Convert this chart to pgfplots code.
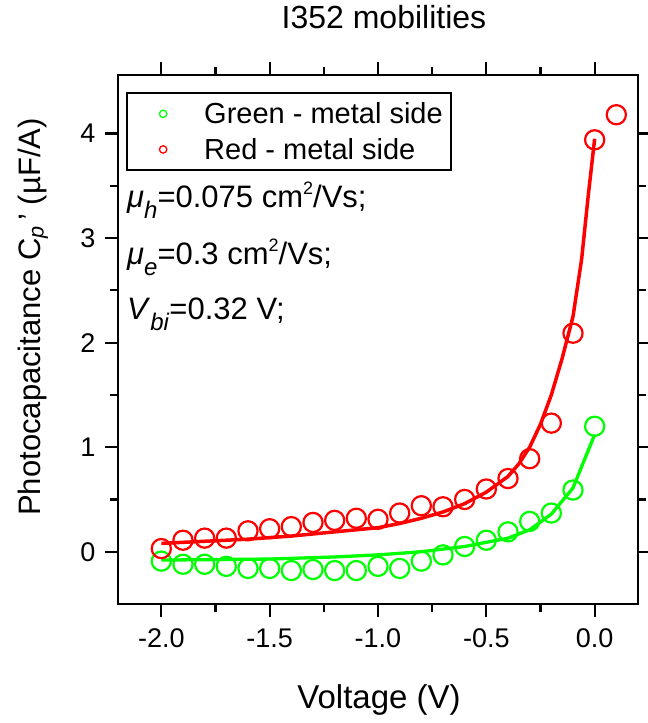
\documentclass[border=0pt]{standalone}
\usepackage{fontspec}
\setmainfont{Liberation Sans}
\usepackage{pgfplots}
\pgfplotsset{compat=1.18}
\definecolor{pgreen}{RGB}{0,255,0}
\definecolor{pred}{RGB}{255,0,0}

\pgfplotstableread{
x y
-2.0 0.03
-1.9 0.11
-1.8 0.13
-1.7 0.13
-1.6 0.20
-1.5 0.22
-1.4 0.24
-1.3 0.28
-1.2 0.30
-1.1 0.32
-1.0 0.31
-0.9 0.37
-0.8 0.44
-0.7 0.43
-0.6 0.50
-0.5 0.60
-0.4 0.70
-0.3 0.89
-0.2 1.23
-0.1 2.09
0.0 3.94
0.1 4.18
}\reddata

\pgfplotstableread{
x y
-2.0 -0.09
-1.9 -0.12
-1.8 -0.12
-1.7 -0.14
-1.6 -0.16
-1.5 -0.16
-1.4 -0.18
-1.3 -0.17
-1.2 -0.18
-1.1 -0.18
-1.0 -0.14
-0.9 -0.16
-0.8 -0.09
-0.7 -0.03
-0.6 0.05
-0.5 0.11
-0.4 0.19
-0.3 0.29
-0.2 0.37
-0.1 0.59
0.0 1.20
}\greendata

\pgfplotstableread{
x y
-2.0 0.08
-1.8 0.10
-1.6 0.12
-1.4 0.15
-1.2 0.19
-1.0 0.23
-0.9 0.27
-0.8 0.32
-0.7 0.38
-0.6 0.46
-0.5 0.57
-0.4 0.72
-0.35 0.84
-0.3 1.00
-0.25 1.22
-0.2 1.50
-0.15 1.85
-0.1 2.25
-0.06 2.80
-0.03 3.40
0.0 3.95
}\redfit

\pgfplotstableread{
x y
-2.0 -0.08
-1.5 -0.07
-1.2 -0.05
-1.0 -0.03
-0.8 0.00
-0.6 0.05
-0.5 0.09
-0.4 0.13
-0.3 0.21
-0.2 0.36
-0.1 0.61
0.0 1.12
}\greenfit

\newcommand{\sub}[1]{\raisebox{-11pt}{\fontsize{24}{24}\selectfont\textit{#1}}}
\newcommand{\sups}[1]{\raisebox{13pt}{\fontsize{18}{18}\selectfont #1}}

\begin{document}
\begin{tikzpicture}
\begin{axis}[
  scale only axis, width=520pt, height=529pt,
  xmin=-2.2, xmax=0.2, ymin=-0.5, ymax=4.56,
  xtick={-2,-1.5,-1,-0.5,0}, ytick={0,1,2,3,4},
  minor x tick num=1, minor y tick num=1,
  tick align=outside, major tick length=13pt, minor tick length=8pt,
  every tick/.style={black, line width=2.2pt},
  axis line style={line width=2.2pt},
  /pgf/number format/assume math mode=true,
  x tick label style={/pgf/number format/.cd, fixed, fixed zerofill, precision=1, /tikz/.cd, yshift=-8pt},
  y tick label style={xshift=-6pt},
  tick label style={font=\fontsize{27}{32}\selectfont},
  title={I352 mobilities},
  title style={at={(0.5115,1)}, anchor=base, yshift=40.7pt, font=\fontsize{32}{36}\selectfont},
  xlabel={Voltage (V)},
  xlabel style={at={(axis description cs:0.502,-0.1972)}, anchor=base, font=\fontsize{33}{36}\selectfont},
  ylabel={Photocapacitance C\textsubscript{\textit{p}}\,' (µF/A)},
  ylabel style={at={(axis description cs:-0.15,0.5425)}, anchor=base, font=\fontsize{31}{36}\selectfont},
  legend style={at={(0,1)}, anchor=north west, xshift=8.3pt, yshift=-17.3pt,
    draw=black, line width=1.5pt, font=\fontsize{29}{32}\selectfont,
    inner xsep=8pt, inner ysep=3pt, row sep=0pt, column sep=0pt,
    nodes={inner sep=0pt}},
  legend cell align=left,
  legend image code/.code={\path (0pt,-16.7pt) (67pt,16.7pt); \draw[#1, mark size=3.7pt, line width=1.3pt] plot coordinates {(27pt,0pt)};},
]
\addplot[pred, line width=3.5pt, forget plot] table {\redfit};
\addplot[pgreen, line width=3.3pt, forget plot] table {\greenfit};
\addplot[pgreen, only marks, mark=o, mark size=9.6pt, line width=2.2pt] table {\greendata};
\addlegendentry{Green - metal side}
\addplot[pred, only marks, mark=o, mark size=9.6pt, line width=2.2pt] table {\reddata};
\addlegendentry{Red - metal side}
\node[anchor=base west, inner sep=0pt, font=\fontsize{31}{34}\selectfont] at (axis description cs:0.0173,0.7486) {\textit{μ}\sub{h}=0.075 cm\sups{2}/Vs;};
\node[anchor=base west, inner sep=0pt, font=\fontsize{31}{34}\selectfont] at (axis description cs:0.0173,0.6427) {\textit{μ}\sub{e}=0.3 cm\sups{2}/Vs;};
\node[anchor=base west, inner sep=0pt, font=\fontsize{31}{34}\selectfont] at (axis description cs:0.0173,0.5369) {\textit{V}\sub{bi}=0.32 V;};
\coordinate (ll) at (rel axis cs:0,0);
\coordinate (ur) at (rel axis cs:1,1);
\end{axis}
\pgfresetboundingbox
\path ([shift={(-118pt,-119pt)}]ll) rectangle ([shift={(10pt,75pt)}]ur);
\end{tikzpicture}
\end{document}
